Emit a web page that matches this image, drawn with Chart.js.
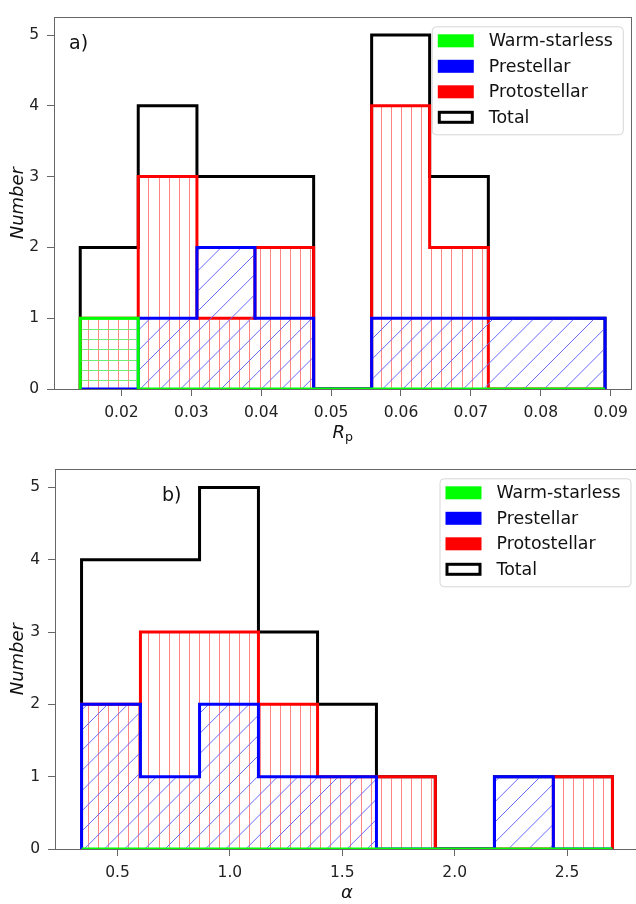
<!DOCTYPE html>
<html lang="en">
<head>
<meta charset="UTF-8">
<title>Rp and alpha histograms</title>
<script src="https://cdn.jsdelivr.net/npm/chart.js"></script>
<style>
  html, body { margin: 0; padding: 0; background: #fff; overflow: hidden; }
  body { width: 636px; height: 904px; position: relative; }
  .panel { position: absolute; left: 0; }
  #panelA { top: 0; }
  #panelB { top: 452px; }
</style>
</head>
<body>
<div class="panel" id="panelA"><canvas id="chartA" width="636" height="452"></canvas></div>
<div class="panel" id="panelB"><canvas id="chartB" width="644" height="452"></canvas></div>
<script>
// classes, in legend order (first one is drawn on top)
const classes = ['Warm-starless', 'Prestellar', 'Protostellar', 'Total'];
const colors = ['#00ff00', '#0000ff', '#ff0000', '#000000'];
const hatchColors = ['#70f070', '#6a6aff', '#ff8484', null];
const hatchKinds = ['horiz', 'diag', 'vert', null];

// panel a: R_p histogram
const rpEdges = [0.0141, 0.0224, 0.0308, 0.0391, 0.0475, 0.0558, 0.0641, 0.0725, 0.0808, 0.0892];
const rpWarm = [1, 0, 0, 0, 0, 0, 0, 0, 0];
const rpPre = [0, 1, 2, 1, 0, 1, 1, 1, 1];
const rpProto = [1, 3, 1, 2, 0, 4, 2, 0, 0];
const rpTotal = [2, 4, 3, 3, 0, 5, 3, 1, 1];
const rpTicks = [0.02, 0.03, 0.04, 0.05, 0.06, 0.07, 0.08, 0.09];

// panel b: alpha histogram
const alphaEdges = [0.340, 0.602, 0.865, 1.127, 1.390, 1.652, 1.914, 2.177, 2.439, 2.702];
const alphaWarm = [0, 0, 0, 0, 0, 0, 0, 0, 0];
const alphaPre = [2, 1, 2, 1, 1, 0, 0, 1, 0];
const alphaProto = [2, 3, 3, 2, 1, 1, 0, 0, 1];
const alphaTotal = [4, 4, 5, 3, 2, 1, 0, 1, 1];
const alphaTicks = [0.5, 1.0, 1.5, 2.0, 2.5];

const countTicks = [0, 1, 2, 3, 4, 5];
const countMax = 5.25;

const FONT = "'DejaVu Sans', sans-serif";
const HATCH = 10.1; // hatch spacing in px, anchored to the page

// outline of a step histogram: up at the first edge, across each bin, down at the last edge
function stepPoints(edges, counts) {
  const pts = [{ x: edges[0], y: 0 }];
  counts.forEach((c, i) => pts.push({ x: edges[i], y: c }));
  pts.push({ x: edges[edges.length - 1], y: 0 });
  return pts;
}

// hatching inside each histogram, drawn just before its outline
function hatchPlugin(pageTop) {
  return {
    id: 'hatchFill',
    beforeDatasetDraw(chart, args) {
      const i = args.index;
      const kind = hatchKinds[i];
      if (!kind) return;
      const pts = args.meta.data;
      const a = chart.chartArea;
      const ctx = chart.ctx;
      ctx.save();
      ctx.beginPath();
      ctx.rect(a.left, a.top, a.right - a.left, a.bottom - a.top);
      ctx.clip();
      ctx.beginPath();
      ctx.moveTo(pts[0].x, pts[0].y);
      for (let j = 1; j < pts.length; j++) {
        ctx.lineTo(pts[j].x, pts[j - 1].y);
        ctx.lineTo(pts[j].x, pts[j].y);
      }
      ctx.closePath();
      ctx.clip();
      ctx.strokeStyle = hatchColors[i];
      ctx.lineWidth = 1;
      ctx.beginPath();
      if (kind === 'vert') {
        for (let k = Math.floor(a.left / HATCH); k * HATCH <= a.right; k++) {
          const x = Math.round(7 + k * HATCH) + 0.5;
          ctx.moveTo(x, a.top); ctx.lineTo(x, a.bottom);
        }
      } else if (kind === 'horiz') {
        for (let k = Math.floor((a.top + pageTop) / HATCH) - 1; k * HATCH <= a.bottom + pageTop; k++) {
          const y = Math.round(6 + k * HATCH - pageTop) + 0.5;
          ctx.moveTo(a.left, y); ctx.lineTo(a.right, y);
        }
      } else {
        const step = 2 * HATCH;
        const lo = a.left + a.top + pageTop, hi = a.right + a.bottom + pageTop;
        for (let k = Math.floor(lo / step) - 1; k * step <= hi; k++) {
          const c = 4 + k * step;
          ctx.moveTo(c - (a.bottom + pageTop), a.bottom);
          ctx.lineTo(c - (a.top + pageTop), a.top);
        }
      }
      ctx.stroke();
      ctx.restore();
    }
  };
}

function drawLegend(ctx, area) {
  const w = 191, h = 108;
  const x = area.right - 8.5 - w, y = area.top + 9;
  ctx.save();
  ctx.beginPath();
  ctx.roundRect(x + 0.5, y + 0.5, w, h, 4);
  ctx.fillStyle = 'rgba(255,255,255,0.8)';
  ctx.fill();
  ctx.strokeStyle = '#d6d6d6';
  ctx.lineWidth = 1;
  ctx.stroke();
  ctx.font = '17.4px ' + FONT;
  ctx.textBaseline = 'middle';
  ctx.textAlign = 'left';
  classes.forEach((name, i) => {
    const cy = y + 14.5 + i * 25.5;
    if (i < 3) {
      ctx.fillStyle = colors[i];
      ctx.fillRect(x + 6, cy - 6.5, 36, 13);
    } else {
      ctx.fillStyle = '#fff';
      ctx.fillRect(x + 6, cy - 6.5, 36, 13);
      ctx.strokeStyle = '#000';
      ctx.lineWidth = 3;
      ctx.strokeRect(x + 7.5, cy - 5, 33, 10);
    }
    ctx.fillStyle = '#111';
    ctx.fillText(name, x + 57, cy + 1);
  });
  ctx.restore();
}

function decorations(panel) {
  return {
    id: 'decorations',
    afterDatasetsDraw(chart) {
      const { ctx, chartArea: a } = chart;
      ctx.save();
      ctx.strokeStyle = '#666';
      ctx.lineWidth = 1;
      ctx.strokeRect(Math.round(a.left) + 0.5, Math.round(a.top) + 0.5,
        Math.round(a.right - a.left), Math.round(a.bottom - a.top));
      ctx.restore();
    },
    afterDraw(chart) {
      const { ctx, chartArea: a } = chart;
      ctx.save();
      ctx.fillStyle = '#111';
      // panel letter
      ctx.font = '19px ' + FONT;
      ctx.textBaseline = 'alphabetic';
      ctx.textAlign = 'left';
      ctx.fillText(panel.letter, a.left + panel.letterDx, a.top + panel.letterDy);
      // y axis title
      ctx.save();
      ctx.translate(23, (a.top + a.bottom) / 2);
      ctx.rotate(-Math.PI / 2);
      ctx.textAlign = 'center';
      ctx.font = 'italic 18px ' + FONT;
      ctx.fillText('Number', 0, 0);
      ctx.restore();
      // x axis title
      const cx = (a.left + a.right) / 2;
      const base = a.bottom + 49;
      if (panel.xTitle === 'Rp') {
        ctx.font = 'italic 18px ' + FONT;
        const wR = ctx.measureText('R').width;
        ctx.font = '12.6px ' + FONT;
        const wp = ctx.measureText('p').width;
        const x0 = cx - (wR + wp) / 2;
        ctx.font = 'italic 18px ' + FONT;
        ctx.fillText('R', x0, base);
        ctx.font = '12.6px ' + FONT;
        ctx.fillText('p', x0 + wR, base + 3);
      } else {
        ctx.font = 'italic 18px ' + FONT;
        ctx.textAlign = 'center';
        ctx.fillText(panel.xTitle, cx, base);
      }
      ctx.restore();
      drawLegend(ctx, a);
    }
  };
}

function makeChart(id, edges, series, xTicks, decimals, panel) {
  const span = edges[edges.length - 1] - edges[0];
  const datasets = series.map((counts, i) => ({
    label: classes[i],
    data: stepPoints(edges, counts),
    stepped: true,
    borderColor: colors[i],
    borderWidth: 3,
    borderJoinStyle: 'miter',
    borderCapStyle: 'butt',
    backgroundColor: 'transparent',
    fill: false,
    pointRadius: 0,
    tension: 0
  }));
  const tickFont = { family: FONT, size: 15.5 };
  return new Chart(document.getElementById(id), {
    type: 'line',
    data: { datasets },
    options: {
      responsive: false,
      animation: false,
      devicePixelRatio: 1,
      layout: { padding: panel.padding },
      plugins: { legend: { display: false }, tooltip: { enabled: false } },
      scales: {
        x: {
          type: 'linear',
          min: edges[0] - 0.05 * span,
          max: edges[edges.length - 1] + 0.05 * span,
          afterBuildTicks: s => { s.ticks = xTicks.map(v => ({ value: v })); },
          afterFit: s => { s.height = panel.xHeight; },
          border: { display: false },
          grid: { drawOnChartArea: false, drawTicks: true, tickLength: 7, color: '#666' },
          ticks: {
            font: tickFont, color: '#222', padding: 8, maxRotation: 0,
            callback: v => Number(v).toFixed(decimals)
          }
        },
        y: {
          min: 0,
          max: countMax,
          afterBuildTicks: s => { s.ticks = countTicks.map(v => ({ value: v })); },
          afterFit: s => { s.width = panel.yWidth; },
          border: { display: false },
          grid: { drawOnChartArea: false, drawTicks: true, tickLength: 7, color: '#666' },
          ticks: { font: tickFont, color: '#222', padding: 8, callback: v => String(v) }
        }
      }
    },
    plugins: [hatchPlugin(panel.pageTop), decorations(panel)]
  });
}

makeChart('chartA', rpEdges, [rpWarm, rpPre, rpProto, rpTotal], rpTicks, 2, {
  letter: 'a)', letterDx: 15, letterDy: 32, xTitle: 'Rp', pageTop: 0,
  padding: { top: 3, right: 3, left: 0, bottom: 0 }, yWidth: 54, xHeight: 63
});
makeChart('chartB', alphaEdges, [alphaWarm, alphaPre, alphaProto, alphaTotal], alphaTicks, 1, {
  letter: 'b)', letterDx: 107, letterDy: 32, xTitle: 'α', pageTop: 452,
  padding: { top: 7, right: 5, left: 0, bottom: 0 }, yWidth: 55, xHeight: 55
});
</script>
</body>
</html>
